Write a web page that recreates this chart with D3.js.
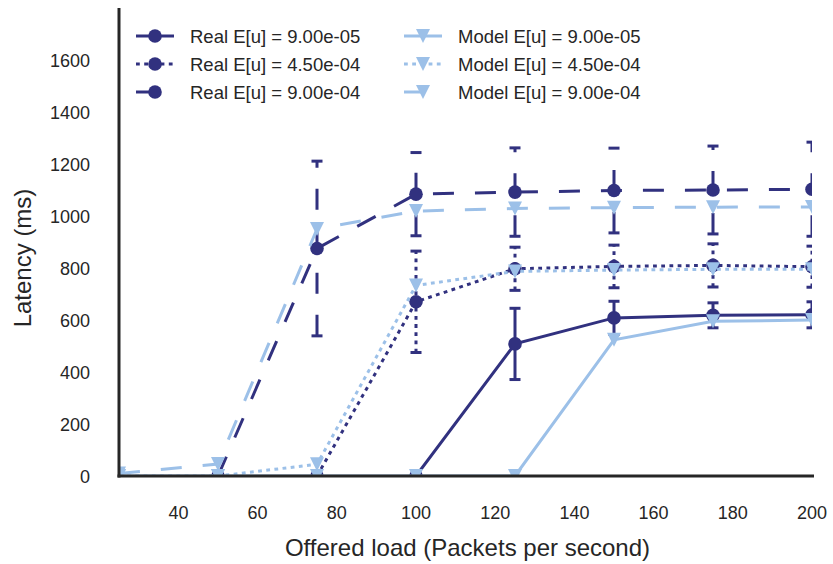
<html>
<head>
<script src="https://d3js.org/d3.v7.min.js"></script>
<style>
    body { margin: 0; background: white; }
    text { font-family: "Liberation Sans", Arial, sans-serif; fill: #262626; }
</style>
</head>
<body>
<svg id="chart" width="833" height="564"></svg>
<script>
// offered load (packets per second)
const loads = [25, 50, 75, 100, 125, 150, 175, 200];

// measured latency (ms), each series starts at its own first load
const realLoadsA = [100, 125, 150, 175, 200];
const realMeanA = [0, 508, 608, 618, 620];
const realErrA  = [0, 137, 64, 48, 50];

const realLoadsB = [75, 100, 125, 150, 175, 200];
const realMeanB = [0, 670, 797, 806, 810, 805];
const realErrB  = [0, 195, 83, 82, 83, 79];

const realLoadsC = [50, 75, 100, 125, 150, 175, 200];
const realMeanC = [0, 875, 1084, 1092, 1098, 1100, 1103];
const realErrC  = [0, 336, 160, 170, 163, 169, 181];

// model latency (ms)
const modelA = [0, 0, 0, 0, 0, 524, 595, 600];
const modelB = [0, 0, 45, 733, 787, 792, 795, 795];
const modelC = [10, 46, 950, 1019, 1029, 1032, 1034, 1035];

const seriesLabels = ["9.00e-05", "4.50e-04", "9.00e-04"];
const xTicks = [40, 60, 80, 100, 120, 140, 160, 180, 200];
const yTicks = [0, 200, 400, 600, 800, 1000, 1200, 1400, 1600];

const dark = "#31317f";
const light = "#9cc0e8";
const dashes = [null, "3.8,4.4", "21,21"];

const svg = d3.select("#chart");
const plotL = 119, plotR = 812, plotT = 8, plotB = 476;

const x = d3.scaleLinear().domain([25, 200]).range([plotL, plotR]);
const y = d3.scaleLinear().domain([0, 1800]).range([plotB, plotT]);

svg.append("clipPath").attr("id", "plotClip")
    .append("rect")
    .attr("x", plotL).attr("y", plotT)
    .attr("width", plotR - plotL).attr("height", plotB - plotT);

const plot = svg.append("g").attr("clip-path", "url(#plotClip)");

const line = d3.line().x(d => x(d[0])).y(d => y(d[1]));

function trianglePath(cx, cy, r) {
    return `M${cx},${cy + r}L${cx - r},${cy - r}L${cx + r},${cy - r}Z`;
}

// real series with error bars
const reals = [
    {xs: realLoadsA, ys: realMeanA, err: realErrA},
    {xs: realLoadsB, ys: realMeanB, err: realErrB},
    {xs: realLoadsC, ys: realMeanC, err: realErrC}
];
reals.forEach(function(s, i) {
    const pts = s.xs.map((v, j) => [v, s.ys[j], s.err[j]]);
    const g = plot.append("g");
    pts.filter(p => p[2] > 0).forEach(function(p) {
        g.append("line")
            .attr("x1", x(p[0])).attr("x2", x(p[0]))
            .attr("y1", y(p[1] - p[2])).attr("y2", y(p[1] + p[2]))
            .attr("stroke", dark).attr("stroke-width", 3)
            .attr("stroke-dasharray", dashes[i]);
        [p[1] - p[2], p[1] + p[2]].forEach(function(v) {
            g.append("line")
                .attr("x1", x(p[0]) - 5.5).attr("x2", x(p[0]) + 5.5)
                .attr("y1", y(v)).attr("y2", y(v))
                .attr("stroke", dark).attr("stroke-width", 3);
        });
    });
    g.append("path").attr("d", line(pts))
        .attr("fill", "none").attr("stroke", dark).attr("stroke-width", 3)
        .attr("stroke-dasharray", dashes[i]);
    g.selectAll("circle").data(pts).enter().append("circle")
        .attr("cx", d => x(d[0])).attr("cy", d => y(d[1])).attr("r", 6.8)
        .attr("fill", dark);
});

// model series
[modelA, modelB, modelC].forEach(function(vals, i) {
    const pts = loads.map((v, j) => [v, vals[j]]);
    const g = plot.append("g");
    g.append("path").attr("d", line(pts))
        .attr("fill", "none").attr("stroke", light).attr("stroke-width", 3)
        .attr("stroke-dasharray", dashes[i]);
    g.selectAll("path.mk").data(pts).enter().append("path")
        .attr("class", "mk")
        .attr("d", d => trianglePath(x(d[0]), y(d[1]), 7))
        .attr("fill", light);
});

// spines
svg.append("line").attr("x1", plotL).attr("x2", plotL).attr("y1", plotT).attr("y2", plotB + 1.5)
    .attr("stroke", "#262626").attr("stroke-width", 3);
svg.append("line").attr("x1", plotL - 1.5).attr("x2", plotR + 2).attr("y1", plotB).attr("y2", plotB)
    .attr("stroke", "#262626").attr("stroke-width", 3);

// tick labels
svg.selectAll("text.ytick").data(yTicks).enter().append("text")
    .attr("class", "ytick")
    .attr("x", 90).attr("y", d => y(d) + 6.5)
    .attr("text-anchor", "end").attr("font-size", 18)
    .text(d => d);
svg.selectAll("text.xtick").data(xTicks).enter().append("text")
    .attr("class", "xtick")
    .attr("x", d => x(d)).attr("y", 519)
    .attr("text-anchor", "middle").attr("font-size", 18)
    .text(d => d);

// axis labels
svg.append("text")
    .attr("x", (plotL + plotR) / 2 + 2).attr("y", 556)
    .attr("text-anchor", "middle").attr("font-size", 24)
    .text("Offered load (Packets per second)");
svg.append("text")
    .attr("transform", `translate(31,${(plotT + plotB) / 2 + 16}) rotate(-90)`)
    .attr("text-anchor", "middle").attr("font-size", 24)
    .text("Latency (ms)");

// legend
const legend = svg.append("g");
const rowY = [36, 64, 92];
seriesLabels.forEach(function(lbl, i) {
    const cols = [
        {x0: 136, color: dark, name: "Real", tri: false},
        {x0: 404, color: light, name: "Model", tri: true}
    ];
    cols.forEach(function(c) {
        legend.append("line")
            .attr("x1", c.x0).attr("x2", c.x0 + 38)
            .attr("y1", rowY[i]).attr("y2", rowY[i])
            .attr("stroke", c.color).attr("stroke-width", 3)
            .attr("stroke-dasharray", dashes[i]);
        if (c.tri) {
            legend.append("path").attr("d", trianglePath(c.x0 + 19, rowY[i], 7)).attr("fill", c.color);
        } else {
            legend.append("circle").attr("cx", c.x0 + 19).attr("cy", rowY[i]).attr("r", 6.8).attr("fill", c.color);
        }
        legend.append("text")
            .attr("x", c.x0 + 54).attr("y", rowY[i] + 6.5)
            .attr("font-size", 18.5)
            .text(`${c.name} E[u] = ${lbl}`);
    });
});
</script>
</body>
</html>
